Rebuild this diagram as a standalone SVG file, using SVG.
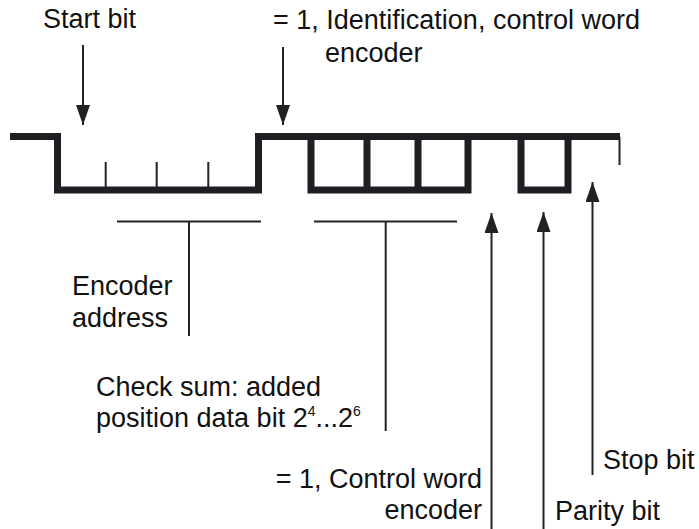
<svg xmlns="http://www.w3.org/2000/svg" width="699" height="529" viewBox="0 0 699 529">
<style>
.t{font-family:"Liberation Sans",Arial,sans-serif;font-size:27px;fill:#111}
.s{font-size:14px}
.w{fill:none;stroke:#1e1f22;stroke-width:7;stroke-linejoin:miter;stroke-linecap:butt}
.l{fill:none;stroke:#222;stroke-width:2}
</style>
<defs>
<marker id="ah2" viewBox="0 0 20 14" refX="20" refY="7" markerWidth="20" markerHeight="14" markerUnits="userSpaceOnUse" orient="auto">
<path d="M0,0 L20,7 L0,14 Z" fill="#222"/>
</marker>
</defs>
<g id="waveform">
<path class="w" d="M10,136.5 H57.5 V190 H258.5 V136.5 H620"/>
<path class="w" d="M311,136.5 V190 H468 V136.5"/>
<path class="w" d="M367,136.5 V190 M418,136.5 V190"/>
<path class="w" d="M521,136.5 V190 H568 V136.5"/>
<path class="l" d="M105.7,162 V187 M156.7,162 V187 M208.3,162 V187 M619.5,137 V165"/>
</g>
<g id="connectors">
<line class="l" x1="83" y1="45" x2="83" y2="125" marker-end="url(#ah2)"/>
<line class="l" x1="283" y1="47" x2="283" y2="125" marker-end="url(#ah2)"/>
<path class="l" d="M117,221.5 H261 M189,221.5 V336"/>
<path class="l" d="M314,221.5 H457 M385.7,221.5 V431"/>
<line class="l" x1="491.5" y1="529" x2="491.5" y2="213" marker-end="url(#ah2)"/>
<line class="l" x1="543.5" y1="529" x2="543.5" y2="212" marker-end="url(#ah2)"/>
<line class="l" x1="592.5" y1="475" x2="592.5" y2="182" marker-end="url(#ah2)"/>
</g>
<g id="start-bit"><text class="t" x="43" y="28">Start bit</text></g>
<g id="identification"><text class="t" x="273" y="29">= 1, Identification, control word</text><text class="t" x="325" y="62">encoder</text></g>
<g id="encoder-address"><text class="t" x="72" y="295">Encoder</text><text class="t" x="72" y="327">address</text></g>
<g id="check-sum"><text class="t" x="96" y="396">Check sum: added</text><text class="t" x="96" y="427">position data bit 2<tspan class="s" dy="-11">4</tspan><tspan dy="11">...2</tspan><tspan class="s" dy="-11">6</tspan></text></g>
<g id="control-word"><text class="t" x="482" y="488" text-anchor="end">= 1, Control word</text><text class="t" x="482" y="519" text-anchor="end">encoder</text></g>
<g id="stop-bit"><text class="t" x="603" y="469">Stop bit</text></g>
<g id="parity-bit"><text class="t" x="555" y="520">Parity bit</text></g>
</svg>
